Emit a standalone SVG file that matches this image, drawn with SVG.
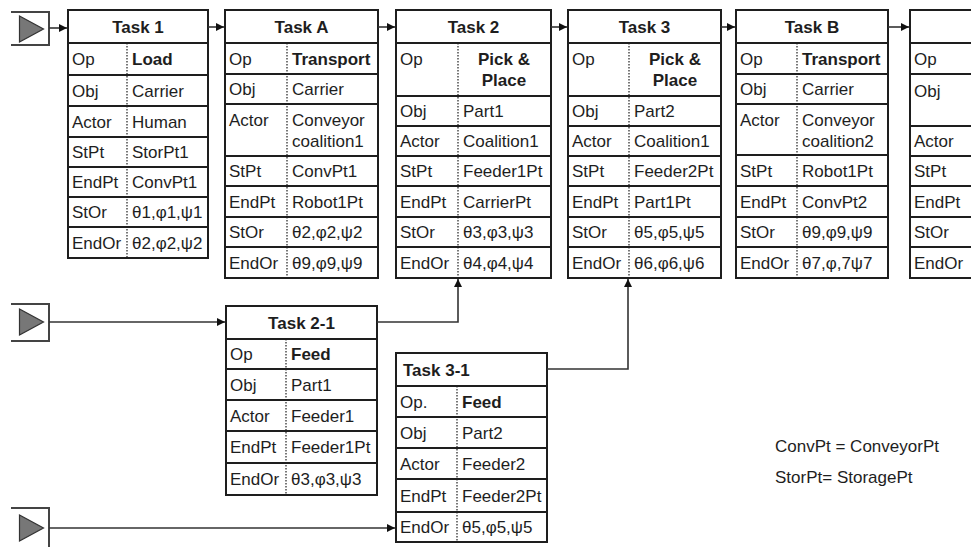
<svg xmlns="http://www.w3.org/2000/svg" width="971" height="547" viewBox="0 0 971 547">
<style>
text{font-family:"Liberation Sans",Arial,sans-serif;font-size:17px;fill:#1e1e1e}
.b{font-weight:bold}
.c{text-anchor:middle}
.box{fill:#fff;stroke:#1e1e1e;stroke-width:2}
.row{stroke:#1e1e1e;stroke-width:1.8;fill:none}
.div{stroke:#1e1e1e;stroke-width:1.2;stroke-dasharray:1.5 1.5;fill:none}
.con{stroke:#333;stroke-width:1.6;fill:none}
.sb{stroke:#444;stroke-width:2;fill:none}
.tri{fill:#777;stroke:#333;stroke-width:1.2}
</style>
<defs>
<marker id="ah" markerUnits="userSpaceOnUse" markerWidth="9" markerHeight="8" refX="8" refY="4" orient="auto">
<path d="M0,0 L8,4 L0,8 z" fill="#111"/>
</marker>
</defs>

<g id="start1">
<path class="sb" d="M11,12 H49 V45 H11"/>
<path class="tri" d="M19.5,16 L43.5,29 L19.5,42 z"/>
</g>
<g id="start2">
<path class="sb" d="M11,304 H49 V341 H11"/>
<path class="tri" d="M19.5,309 L43.5,322 L19.5,335 z"/>
</g>
<g id="start3">
<path class="sb" d="M11,508 H49 V549"/>
<path class="tri" d="M19.5,515 L43.5,528 L19.5,541 z"/>
</g>

<g id="task1">
<rect class="box" x="68" y="10" width="140" height="248"/>
<path class="row" d="M68,43H208M68,75H208M68,106H208M68,137H208M68,167H208M68,197H208M68,227H208"/>
<path class="div" d="M127,43V258"/>
<text class="b c" x="138" y="32.5">Task 1</text>
<text x="72" y="65">Op</text><text class="b" x="132" y="65">Load</text>
<text x="72" y="96.5">Obj</text><text x="132" y="96.5">Carrier</text>
<text x="72" y="127.5">Actor</text><text x="132" y="127.5">Human</text>
<text x="72" y="158">StPt</text><text x="132" y="158">StorPt1</text>
<text x="72" y="188">EndPt</text><text x="132" y="188">ConvPt1</text>
<text x="72" y="218">StOr</text><text x="132" y="218">θ1,φ1,ψ1</text>
<text x="72" y="248.5">EndOr</text><text x="132" y="248.5">θ2,φ2,ψ2</text>
</g>

<g id="taskA">
<rect class="box" x="225" y="10" width="153" height="268"/>
<path class="row" d="M225,43H378M225,74H378M225,104H378M225,156H378M225,186H378M225,217H378M225,247H378"/>
<path class="div" d="M287,43V278"/>
<text class="b c" x="301.5" y="32.5">Task A</text>
<text x="229" y="64.5">Op</text><text class="b" x="292" y="64.5">Transport</text>
<text x="229" y="95">Obj</text><text x="292" y="95">Carrier</text>
<text x="229" y="126">Actor</text><text x="292" y="126">Conveyor</text><text x="292" y="146.5">coalition1</text>
<text x="229" y="177">StPt</text><text x="292" y="177">ConvPt1</text>
<text x="229" y="207.5">EndPt</text><text x="292" y="207.5">Robot1Pt</text>
<text x="229" y="238">StOr</text><text x="292" y="238">θ2,φ2,ψ2</text>
<text x="229" y="268.5">EndOr</text><text x="292" y="268.5">θ9,φ9,ψ9</text>
</g>

<g id="task2">
<rect class="box" x="396" y="10" width="155" height="268"/>
<path class="row" d="M396,43H551M396,96H551M396,126H551M396,156H551M396,186H551M396,217H551M396,247H551"/>
<path class="div" d="M458,43V278"/>
<text class="b c" x="473.5" y="32.5">Task 2</text>
<text x="400" y="64.5">Op</text><text class="b c" x="504" y="65">Pick &amp;</text><text class="b c" x="504" y="86">Place</text>
<text x="400" y="117">Obj</text><text x="463" y="117">Part1</text>
<text x="400" y="147">Actor</text><text x="463" y="147">Coalition1</text>
<text x="400" y="177">StPt</text><text x="463" y="177">Feeder1Pt</text>
<text x="400" y="207.5">EndPt</text><text x="463" y="207.5">CarrierPt</text>
<text x="400" y="238">StOr</text><text x="463" y="238">θ3,φ3,ψ3</text>
<text x="400" y="268.5">EndOr</text><text x="463" y="268.5">θ4,φ4,ψ4</text>
</g>

<g id="task3">
<rect class="box" x="568" y="10" width="153" height="268"/>
<path class="row" d="M568,43H721M568,96H721M568,126H721M568,156H721M568,186H721M568,217H721M568,247H721"/>
<path class="div" d="M629,43V278"/>
<text class="b c" x="644.5" y="32.5">Task 3</text>
<text x="572" y="64.5">Op</text><text class="b c" x="675" y="65">Pick &amp;</text><text class="b c" x="675" y="86">Place</text>
<text x="572" y="117">Obj</text><text x="634" y="117">Part2</text>
<text x="572" y="147">Actor</text><text x="634" y="147">Coalition1</text>
<text x="572" y="177">StPt</text><text x="634" y="177">Feeder2Pt</text>
<text x="572" y="207.5">EndPt</text><text x="634" y="207.5">Part1Pt</text>
<text x="572" y="238">StOr</text><text x="634" y="238">θ5,φ5,ψ5</text>
<text x="572" y="268.5">EndOr</text><text x="634" y="268.5">θ6,φ6,ψ6</text>
</g>

<g id="taskB">
<rect class="box" x="736" y="10" width="152" height="268"/>
<path class="row" d="M736,43H888M736,74H888M736,104H888M736,155H888M736,186H888M736,217H888M736,247H888"/>
<path class="div" d="M797,43V278"/>
<text class="b c" x="812" y="32.5">Task B</text>
<text x="740" y="64.5">Op</text><text class="b" x="802" y="64.5">Transport</text>
<text x="740" y="95">Obj</text><text x="802" y="95">Carrier</text>
<text x="740" y="126">Actor</text><text x="802" y="126">Conveyor</text><text x="802" y="146.5">coalition2</text>
<text x="740" y="177">StPt</text><text x="802" y="177">Robot1Pt</text>
<text x="740" y="207.5">EndPt</text><text x="802" y="207.5">ConvPt2</text>
<text x="740" y="238">StOr</text><text x="802" y="238">θ9,φ9,ψ9</text>
<text x="740" y="268.5">EndOr</text><text x="802" y="268.5">θ7,φ,7ψ7</text>
</g>

<g id="taskNext">
<rect class="box" x="910" y="10" width="120" height="268"/>
<path class="row" d="M910,43H1030M910,74H1030M910,126H1030M910,156H1030M910,186H1030M910,217H1030M910,247H1030"/>
<text x="914" y="64.5">Op</text>
<text x="914" y="96.5">Obj</text>
<text x="914" y="147">Actor</text>
<text x="914" y="177">StPt</text>
<text x="914" y="207.5">EndPt</text>
<text x="914" y="238">StOr</text>
<text x="914" y="268.5">EndOr</text>
</g>

<g id="task2-1">
<rect class="box" x="226" y="306" width="151" height="189"/>
<path class="row" d="M226,339H377M226,369H377M226,400H377M226,431H377M226,463H377"/>
<path class="div" d="M286,339V495"/>
<text class="b c" x="301.5" y="328.5">Task 2-1</text>
<text x="230" y="360">Op</text><text class="b" x="291" y="360">Feed</text>
<text x="230" y="390.5">Obj</text><text x="291" y="390.5">Part1</text>
<text x="230" y="421.5">Actor</text><text x="291" y="421.5">Feeder1</text>
<text x="230" y="453">EndPt</text><text x="291" y="453">Feeder1Pt</text>
<text x="230" y="485">EndOr</text><text x="291" y="485">θ3,φ3,ψ3</text>
</g>

<g id="task3-1">
<rect class="box" x="396" y="353" width="151" height="189"/>
<path class="row" d="M396,386H547M396,417H547M396,448H547M396,479H547M396,512H547"/>
<path class="div" d="M457,386V542"/>
<text class="b" x="403" y="375.5">Task 3-1</text>
<text x="400" y="407.5">Op.</text><text class="b" x="462" y="407.5">Feed</text>
<text x="400" y="438.5">Obj</text><text x="462" y="438.5">Part2</text>
<text x="400" y="469.5">Actor</text><text x="462" y="469.5">Feeder2</text>
<text x="400" y="501.5">EndPt</text><text x="462" y="501.5">Feeder2Pt</text>
<text x="400" y="533">EndOr</text><text x="462" y="533">θ5,φ5,ψ5</text>
</g>

<g id="legend">
<text x="775" y="452">ConvPt = ConveyorPt</text>
<text x="775" y="483">StorPt= StoragePt</text>
</g>

<g id="connectors">
<path class="con" d="M49,28H67" marker-end="url(#ah)"/>
<path class="con" d="M208,27H224" marker-end="url(#ah)"/>
<path class="con" d="M378,27H395" marker-end="url(#ah)"/>
<path class="con" d="M551,27H567" marker-end="url(#ah)"/>
<path class="con" d="M721,27H735" marker-end="url(#ah)"/>
<path class="con" d="M888,27H909" marker-end="url(#ah)"/>
<path class="con" d="M49,322H225" marker-end="url(#ah)"/>
<path class="con" d="M377,322H458V279" marker-end="url(#ah)"/>
<path class="con" d="M547,369H628V279" marker-end="url(#ah)"/>
<path class="con" d="M49,528H395" marker-end="url(#ah)"/>
</g>
</svg>
